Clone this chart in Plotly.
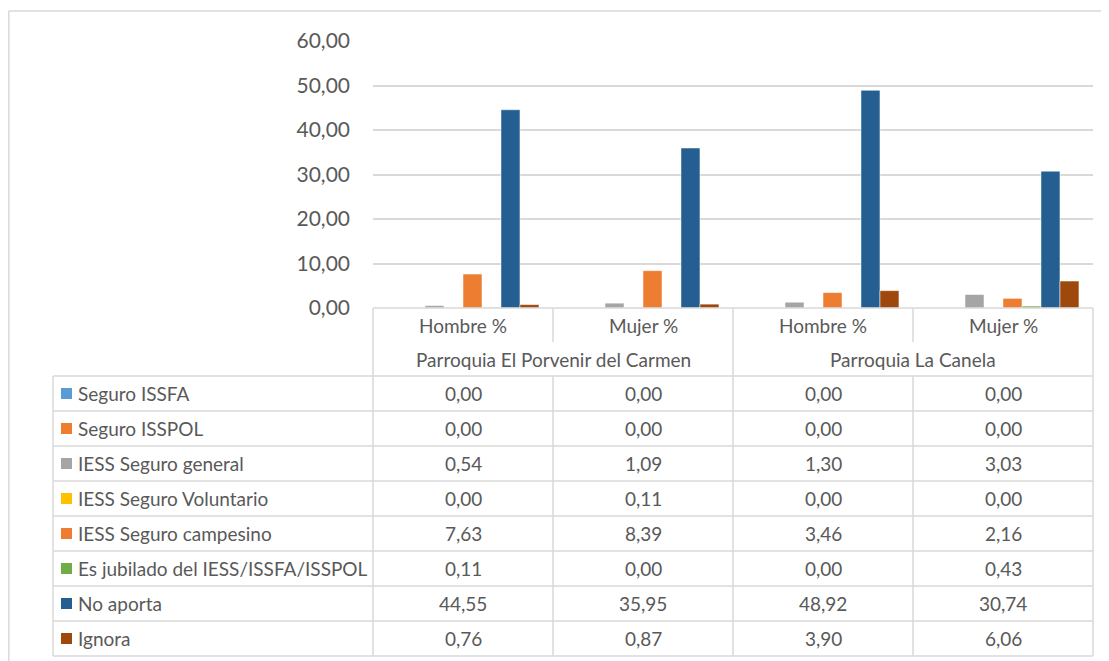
import plotly.graph_objects as go

categories = ["Hombre %", "Mujer %", "Hombre %", "Mujer %"]
groups = ["Parroquia El Porvenir del Carmen", "Parroquia La Canela"]

series_names = [
    "Seguro ISSFA",
    "Seguro ISSPOL",
    "IESS Seguro general",
    "IESS Seguro Voluntario",
    "IESS Seguro campesino",
    "Es jubilado del IESS/ISSFA/ISSPOL",
    "No aporta",
    "Ignora",
]
seguro_issfa = [0.00, 0.00, 0.00, 0.00]
seguro_isspol = [0.00, 0.00, 0.00, 0.00]
iess_general = [0.54, 1.09, 1.30, 3.03]
iess_voluntario = [0.00, 0.11, 0.00, 0.00]
iess_campesino = [7.63, 8.39, 3.46, 2.16]
jubilado = [0.11, 0.00, 0.00, 0.43]
no_aporta = [44.55, 35.95, 48.92, 30.74]
ignora = [0.76, 0.87, 3.90, 6.06]
series_values = [seguro_issfa, seguro_isspol, iess_general, iess_voluntario,
                 iess_campesino, jubilado, no_aporta, ignora]
colors = ["#5B9BD5", "#ED7D31", "#A5A5A5", "#FFC000",
          "#ED7D31", "#70AD47", "#255E91", "#9E480E"]

# page has an 8px body margin; figure is sized so the plot lands at page coords
OFF = 8
W, H = 1109 - OFF, 661 - OFF
L, R, T, B = 373 - OFF, 16, 41 - OFF, 353
PW, PH = W - L - R, H - T - B
FONT = "Lato"
TXT = "#595959"
GRID = "#D9D9D9"
FS = 19


def px(x):  # page x -> paper
    return (x - OFF - L) / PW


def py(y):  # page y -> paper
    return (H - B - (y - OFF)) / PH


xs = list(range(len(categories)))
fig = go.Figure()
for name, vals, col in zip(series_names, series_values, colors):
    fig.add_trace(go.Bar(x=xs, y=vals, name=name, marker_color=col,
                         marker_line_color="white", marker_line_width=0.5))

shapes = []
annotations = []


def hline(x0, x1, y):
    shapes.append(dict(type="line", xref="paper", yref="paper", x0=px(x0), x1=px(x1),
                       y0=py(y), y1=py(y), line=dict(color=GRID, width=1.5)))


def vline(x, y0, y1):
    shapes.append(dict(type="line", xref="paper", yref="paper", x0=px(x), x1=px(x),
                       y0=py(y0), y1=py(y1), line=dict(color=GRID, width=1.5)))


# outer chart border (top and left edges visible)
hline(8.8, 1109, 11)
vline(8.8, 11, 661)

top_y = 308
cat_y1 = 342
grp_y1 = 376
row_h = 35
n_rows = len(series_names)
bottom_y = grp_y1 + row_h * n_rows

# table horizontals
hline(373, 1093, top_y)
hline(53, 1093, grp_y1)
for r in range(1, n_rows + 1):
    hline(53, 1093, grp_y1 + row_h * r)
# verticals
vline(373, top_y, bottom_y)
vline(1093, top_y, bottom_y)
vline(53, grp_y1, bottom_y)
vline(733, top_y, bottom_y)
for x in (553, 913):
    vline(x, top_y, cat_y1)
    vline(x, grp_y1, bottom_y)

# category labels
for i, c in enumerate(categories):
    annotations.append(dict(x=i, xref="x", y=py((top_y + cat_y1) / 2), yref="paper",
                            text=c, showarrow=False, xanchor="center", yanchor="middle",
                            font=dict(family=FONT, size=FS, color=TXT)))
for g, gname in enumerate(groups):
    annotations.append(dict(x=2 * g + 0.5, xref="x", y=py((cat_y1 + grp_y1) / 2), yref="paper",
                            text=gname, showarrow=False, xanchor="center", yanchor="middle",
                            font=dict(family=FONT, size=FS, color=TXT)))

# rows
for r, (name, vals, col) in enumerate(zip(series_names, series_values, colors)):
    yc = grp_y1 + row_h * r + row_h / 2
    shapes.append(dict(type="rect", xref="paper", yref="paper", x0=px(61), x1=px(72),
                       y0=py(yc - 5.5), y1=py(yc + 5.5), fillcolor=col, line=dict(width=0)))
    annotations.append(dict(x=px(76), xref="paper", y=py(yc), yref="paper", text=name,
                            showarrow=False, xanchor="left", yanchor="middle",
                            font=dict(family=FONT, size=FS, color=TXT)))
    for i, v in enumerate(vals):
        annotations.append(dict(x=i, xref="x", y=py(yc), yref="paper",
                                text=f"{v:.2f}".replace(".", ","), showarrow=False,
                                xanchor="center", yanchor="middle",
                                font=dict(family=FONT, size=FS, color=TXT)))

fig.update_layout(
    width=W, height=H,
    margin=dict(l=L, r=R, t=T, b=B),
    paper_bgcolor="white", plot_bgcolor="white",
    barmode="group", bargap=0.156, bargroupgap=0,
    showlegend=False,
    separators=", ",
    shapes=shapes, annotations=annotations,
    xaxis=dict(range=[-0.5, 3.5], showticklabels=False, showgrid=False,
               zeroline=False, showline=False, fixedrange=True),
    yaxis=dict(range=[0, 60], dtick=10, tickformat=".2f", showgrid=True,
               gridcolor=GRID, gridwidth=1.5, zeroline=False, showline=False,
               ticklabelstandoff=22,
               tickfont=dict(family=FONT, size=21, color=TXT)),
)

fig.write_html("out.html")
